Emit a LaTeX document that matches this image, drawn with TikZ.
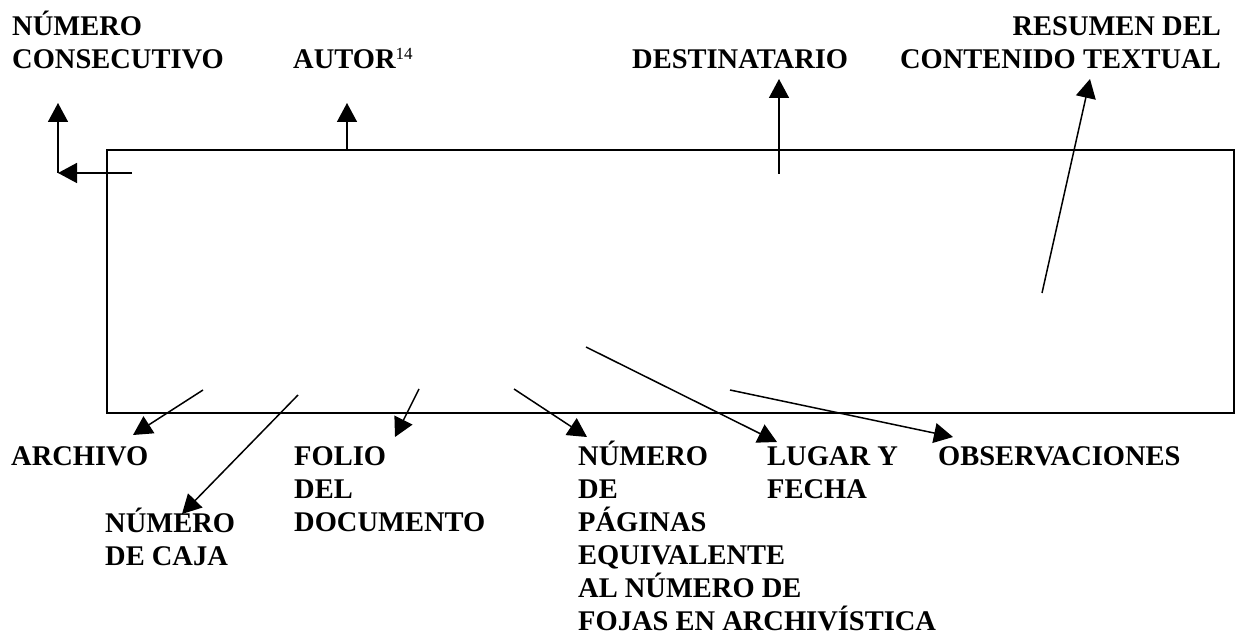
\documentclass[tikz,border=0pt]{standalone}
\usepackage{fontspec}
\setmainfont{Liberation Serif}
\usetikzlibrary{arrows.meta}
\begin{document}
\begin{tikzpicture}[x=1pt,y=-1pt,
  lbl/.style={anchor=base west,inner sep=0pt,align=left,
    font=\fontsize{28.5}{33}\selectfont\bfseries},
  lblr/.style={anchor=base east,inner sep=0pt,align=right,
    font=\fontsize{28.5}{33}\selectfont\bfseries},
  arr/.style={line width=1.5pt,-{Triangle[length=19pt,width=20pt]}},
  box/.style={draw,line width=1.6pt}]
\useasboundingbox (0,0) rectangle (1236,636);
% frame
\draw[box] (107,150) rectangle (1234,413);
% labels (positioned at the baseline of their last line)
\node[lbl] (nc) at (12,69) {NÚMERO\\CONSECUTIVO};
\node[lbl] (autor) at (293,69) {AUTOR\raisebox{9pt}{\fontsize{17}{17}\selectfont\mdseries 14}};
\node[lbl] (dest) at (632,69) {DESTINATARIO};
\node[lblr] (res) at (1221,69) {RESUMEN DEL\\CONTENIDO TEXTUAL};
\node[lbl] (arch) at (11,465) {ARCHIVO};
\node[lbl] (caja) at (105,565) {NÚMERO\\DE CAJA};
\node[lbl] (folio) at (294,531) {FOLIO\\DEL\\DOCUMENTO};
\node[lbl] (pag) at (578,630) {NÚMERO\\DE\\PÁGINAS\\EQUIVALENTE\\AL NÚMERO DE\\FOJAS EN ARCHIVÍSTICA};
\node[lbl] (lug) at (767,498) {LUGAR Y\\FECHA};
\node[lbl] (obs) at (938,465) {OBSERVACIONES};
% connector end points
\coordinate (ncA) at (132,173);
\coordinate (ncB) at (58,173);
\coordinate (ncC) at (58,103);
\coordinate (auA) at (347,150);
\coordinate (auB) at (347,103);
\coordinate (deA) at (779,174);
\coordinate (deB) at (779,79);
\coordinate (reA) at (1042,293);
\coordinate (reB) at (1090,79);
\coordinate (arA) at (203,390);
\coordinate (arB) at (133,435);
\coordinate (caA) at (298,395);
\coordinate (caB) at (182,514);
\coordinate (foA) at (419,389);
\coordinate (foB) at (395,437);
\coordinate (paA) at (514,389);
\coordinate (paB) at (587,437);
\coordinate (luA) at (586,347);
\coordinate (luB) at (777,442);
\coordinate (obA) at (730,390);
\coordinate (obB) at (953,437);
% connectors
\draw[arr] (ncA) -- (ncB);
\draw[arr] (ncB) -- (ncC);
\draw[arr] (auA) -- (auB);
\draw[arr] (deA) -- (deB);
\draw[arr] (reA) -- (reB);
\draw[arr] (arA) -- (arB);
\draw[arr] (caA) -- (caB);
\draw[arr] (foA) -- (foB);
\draw[arr] (paA) -- (paB);
\draw[arr] (luA) -- (luB);
\draw[arr] (obA) -- (obB);
\end{tikzpicture}
\end{document}
